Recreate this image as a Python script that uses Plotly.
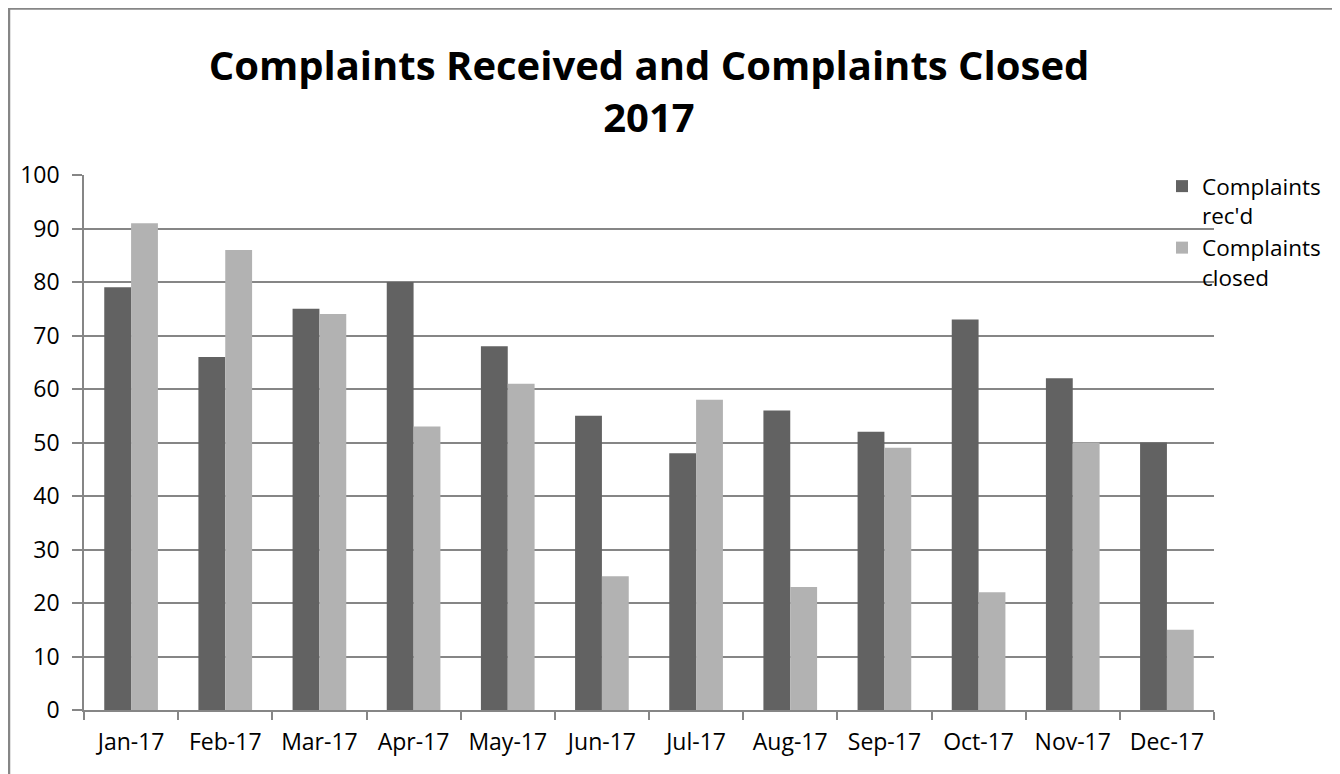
import plotly.graph_objects as go

months = ["Jan-17", "Feb-17", "Mar-17", "Apr-17", "May-17", "Jun-17",
          "Jul-17", "Aug-17", "Sep-17", "Oct-17", "Nov-17", "Dec-17"]
received = [79, 66, 75, 80, 68, 55, 48, 56, 52, 73, 62, 50]
closed = [91, 86, 74, 53, 61, 25, 58, 23, 49, 22, 50, 15]
y_ticks = [0, 10, 20, 30, 40, 50, 60, 70, 80, 90, 100]

W, H = 1340, 774
L, R, T, B = 76, 1206, 167, 702  # plot area in figure pixels

def px_x(x):
    return (x - L) / (R - L)

def px_y(y):
    return (B - y) / (B - T)

FONT = "Open Sans"
GRID = "#868686"

fig = go.Figure()
fig.add_trace(go.Bar(x=months, y=received, name="Complaints<br>rec'd",
                     marker=dict(color="#626262", line=dict(width=0))))
fig.add_trace(go.Bar(x=months, y=closed, name="Complaints<br>closed",
                     marker=dict(color="#b2b2b2", line=dict(width=0))))

fig.update_layout(
    width=W, height=H,
    margin=dict(l=L, r=W - R, t=T, b=H - B, pad=0),
    paper_bgcolor="white", plot_bgcolor="white",
    barmode="group", bargap=0.43, bargroupgap=0,
    font=dict(family=FONT, size=23, color="black"),
    title=dict(text="<b>Complaints Received and Complaints Closed<br>2017</b>",
               x=0.5, xanchor="center", xref="paper",
               y=1 - 72 / H, yanchor="middle",
               font=dict(family=FONT, size=40, color="black")),
    legend=dict(x=px_x(1154), y=px_y(157), xanchor="left", yanchor="top",
                bgcolor="rgba(0,0,0,0)", valign="top",
                font=dict(family=FONT, size=22.5, color="black"),
                itemwidth=30, tracegroupgap=0),
    showlegend=True,
)
fig.update_xaxes(
    type="category", showgrid=False, showline=True, linecolor=GRID, linewidth=2,
    ticks="outside", tickson="boundaries", ticklen=8, tickcolor=GRID, tickwidth=2,
    ticklabelstandoff=10,
    tickfont=dict(family=FONT, size=23, color="black"),
)
fig.update_yaxes(
    range=[0, 100], tickvals=y_ticks, showgrid=True, gridcolor=GRID, gridwidth=2,
    showline=True, linecolor=GRID, linewidth=1.5, zeroline=False,
    ticks="outside", ticklen=10, tickcolor=GRID, tickwidth=2,
    ticklabelstandoff=8,
    tickfont=dict(family=FONT, size=23, color="black"),
)

# outer chart frame (left and top edges)
fig.add_shape(type="line", xref="paper", yref="paper",
              x0=px_x(1), x1=px_x(1), y0=px_y(0), y1=px_y(H + 5),
              line=dict(color=GRID, width=2.5))
fig.add_shape(type="line", xref="paper", yref="paper",
              x0=px_x(0), x1=px_x(W + 5), y0=px_y(0.5), y1=px_y(0.5),
              line=dict(color=GRID, width=2.5))

fig.write_html("out.html")
